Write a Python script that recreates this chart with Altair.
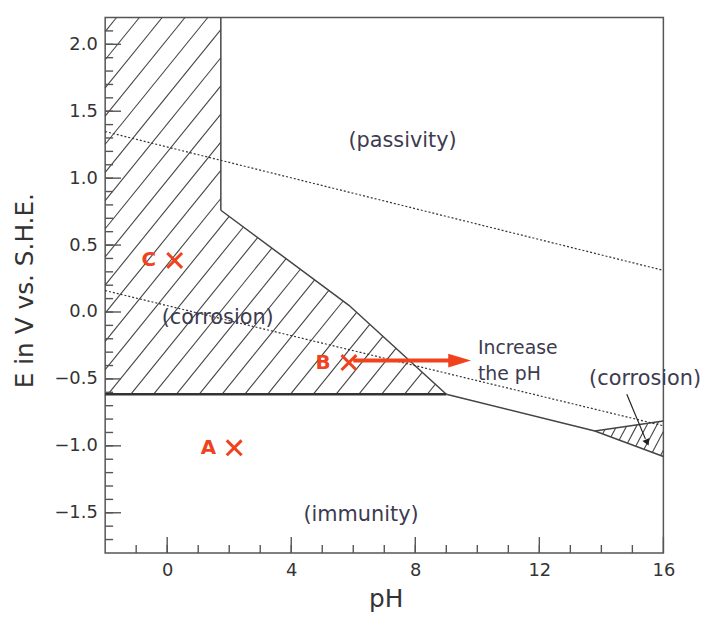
import math
import altair as alt
import numpy as np
import pandas as pd

# ---------------- axes ----------------
X_DOMAIN = [-2, 16]
Y_DOMAIN = [-1.8, 2.2]
W, H = 563, 540
x_major = [0, 4, 8, 12, 16]
x_minor = list(range(-1, 16))
y_major = [-1.5, -1.0, -0.5, 0.0, 0.5, 1.0, 1.5, 2.0]
y_minor = [round(v, 1) for v in np.arange(-1.7, 2.15, 0.1)]

# ---------------- boundaries (pH, E in V) ----------------
fe3_pH = [1.73, 1.73]
fe3_E = [2.2, 0.76]
fe2_pH = [1.73, 5.86, 9.0]
fe2_E = [0.76, 0.05, -0.615]
imm_pH = [-2.0, 9.0]
imm_E = [-0.615, -0.615]
fe3o4_pH = [9.0, 13.79, 16.0]
fe3o4_E = [-0.615, -0.889, -1.08]
hfeo2_pH = [13.79, 16.0]
hfeo2_E = [-0.889, -0.815]

# water stability lines (dotted)
o2_pH = [-2.0, 16.0]
o2_E = [1.348, 0.311]
h2_pH = [-2.0, 16.0]
h2_E = [0.16, -0.85]

# hatched (corrosion) regions
main_pH = [-2.0, 1.73, 1.73, 5.86, 9.0, -2.0]
main_E = [2.2, 2.2, 0.76, 0.05, -0.615, -0.615]
small_pH = [13.79, 16.0, 16.0]
small_E = [-0.889, -0.815, -1.08]

# marked points
pt_names = ["C", "A", "B"]
pt_pH = [0.24, 2.16, 5.86]
pt_E = [0.385, -1.015, -0.378]

# arrow "increase the pH"
arrow_pH = [6.0, 9.2]
arrow_E = [-0.363, -0.363]
arrow_head_pH = [9.43]
arrow_head_E = [-0.363]

# pointer from right "(corrosion)" label
ptr_pH = [14.82, 15.42]
ptr_E = [-0.615, -0.948]
ptr_head_pH = [15.48]
ptr_head_E = [-0.975]

# region labels
lab_text = ["(passivity)", "(corrosion)", "(immunity)", "(corrosion)"]
lab_pH = [7.59, 1.63, 6.25, 15.41]
lab_E = [1.274, -0.044, -1.519, -0.504]
note_text = ["Increase", "the pH"]
note_pH = [10.02, 10.02]
note_E = [-0.267, -0.467]

RED = "#EF421D"
INK = "#444444"
TXT = "#3d3b4f"
FONT = "DejaVu Sans"


# ---------------- hatch texture (clipped to region polygons) ----------------
def to_px(ph, e):
    return ((ph - X_DOMAIN[0]) / (X_DOMAIN[1] - X_DOMAIN[0]) * W,
            (Y_DOMAIN[1] - e) / (Y_DOMAIN[1] - Y_DOMAIN[0]) * H)


def to_data(x, y):
    return (X_DOMAIN[0] + x / W * (X_DOMAIN[1] - X_DOMAIN[0]),
            Y_DOMAIN[1] - y / H * (Y_DOMAIN[1] - Y_DOMAIN[0]))


def hatch(poly_pH, poly_E, spacing, angle, region):
    k = math.tan(math.radians(angle))
    pts = [to_px(a, b) for a, b in zip(poly_pH, poly_E)]
    vals = [y + k * x for x, y in pts]
    step = spacing * k
    c = math.floor(min(vals) / step) * step + step * 0.5
    rows = []
    n = len(pts)
    while c < max(vals):
        hits = []
        for i in range(n):
            (x1, y1), (x2, y2) = pts[i], pts[(i + 1) % n]
            f1, f2 = vals[i] - c, vals[(i + 1) % n] - c
            if (f1 < 0) != (f2 < 0):
                t = f1 / (f1 - f2)
                hits.append((x1 + t * (x2 - x1), y1 + t * (y2 - y1)))
        hits.sort()
        for j in range(0, len(hits) - 1, 2):
            p, q = to_data(*hits[j]), to_data(*hits[j + 1])
            rows.append(dict(region=region, x=p[0], y=p[1], x2=q[0], y2=q[1]))
        c += step
    return rows


hatch_df = pd.DataFrame(
    hatch(main_pH, main_E, 23, 51, "main")
    + hatch(small_pH, small_E, 10, 62, "small")
)

# ---------------- shared encodings ----------------
xscale = alt.Scale(domain=X_DOMAIN, nice=False, zero=False)
yscale = alt.Scale(domain=Y_DOMAIN, nice=False, zero=False)
xaxis = alt.Axis(values=x_major, ticks=False, domain=False, grid=False,
                 labelFontSize=18, labelPadding=9, labelFlush=False,
                 title="pH", titleFontSize=25, titleFontWeight="normal",
                 titleX=283, titleY=54, titleAlign="center",
                 titleBaseline="alphabetic")
yaxis = alt.Axis(values=y_major, format=".1f", ticks=False, domain=False,
                 grid=False, labelFontSize=18, labelPadding=8,
                 labelFlush=False, title="E in V vs. S.H.E.",
                 titleFontSize=25, titleFontWeight="normal", titleAngle=270,
                 titleX=-73, titleY=275, titleAlign="center",
                 titleBaseline="alphabetic")


def X(f):
    return alt.X(f, type="quantitative", scale=xscale, axis=xaxis)


def Y(f):
    return alt.Y(f, type="quantitative", scale=yscale, axis=yaxis)


def line_df(segs):
    rows = []
    for name, xs, ys in segs:
        for i, (a, b) in enumerate(zip(xs, ys)):
            rows.append(dict(seg=name, o=i, pH=a, E=b))
    return pd.DataFrame(rows)


bounds = line_df([("fe3", fe3_pH, fe3_E), ("fe2", fe2_pH, fe2_E),
                  ("fe3o4", fe3o4_pH, fe3o4_E), ("hfeo2", hfeo2_pH, hfeo2_E)])
imm = line_df([("imm", imm_pH, imm_E)])
water = line_df([("o2", o2_pH, o2_E), ("h2", h2_pH, h2_E)])

hatch_layer = alt.Chart(hatch_df).mark_rule(color=INK, strokeWidth=1.1).encode(
    x=X("x"), y=Y("y"), x2="x2", y2="y2")

bound_layer = alt.Chart(bounds).mark_line(color=INK, strokeWidth=1.5).encode(
    x=X("pH"), y=Y("E"), detail="seg:N", order="o:Q")

imm_layer = alt.Chart(imm).mark_line(color="#333333", strokeWidth=2.6).encode(
    x=X("pH"), y=Y("E"), detail="seg:N", order="o:Q")

water_layer = alt.Chart(water).mark_line(
    color="#333333", strokeWidth=1.2, strokeDash=[2, 2]).encode(
    x=X("pH"), y=Y("E"), detail="seg:N", order="o:Q")

# inward ticks
xmin_df = pd.DataFrame({"v": x_minor})
xmaj_df = pd.DataFrame({"v": x_major})
ymin_df = pd.DataFrame({"v": y_minor})
ymaj_df = pd.DataFrame({"v": y_major})
tick_style = dict(color="#555555", strokeWidth=1.4)
xminor_layer = alt.Chart(xmin_df).mark_rule(**tick_style).encode(
    x=X("v"), y=alt.value(H), y2=alt.value(H - 8))
xmajor_layer = alt.Chart(xmaj_df).mark_rule(**tick_style).encode(
    x=X("v"), y=alt.value(H), y2=alt.value(H - 16))
yminor_layer = alt.Chart(ymin_df).mark_rule(**tick_style).encode(
    y=Y("v"), x=alt.value(0), x2=alt.value(8))
ymajor_layer = alt.Chart(ymaj_df).mark_rule(**tick_style).encode(
    y=Y("v"), x=alt.value(0), x2=alt.value(16))

# region labels
lab_df = pd.DataFrame({"t": lab_text, "pH": lab_pH, "E": lab_E})
lab_layer = alt.Chart(lab_df).mark_text(
    font=FONT, fontSize=21, color=TXT, align="center", baseline="middle").encode(
    x=X("pH"), y=Y("E"), text="t:N")

note_df = pd.DataFrame({"t": note_text, "pH": note_pH, "E": note_E})
note_layer = alt.Chart(note_df).mark_text(
    font=FONT, fontSize=19, color=TXT, align="left", baseline="middle").encode(
    x=X("pH"), y=Y("E"), text="t:N")

# red arrow
arrow_df = pd.DataFrame({"pH": [arrow_pH[0]], "E": [arrow_E[0]],
                         "pH2": [arrow_pH[1]], "E2": [arrow_E[1]]})
arrow_layer = alt.Chart(arrow_df).mark_rule(color=RED, strokeWidth=4).encode(
    x=X("pH"), y=Y("E"), x2="pH2", y2="E2")
head_df = pd.DataFrame({"pH": arrow_head_pH, "E": arrow_head_E})
head_layer = alt.Chart(head_df).mark_point(
    shape="M-1,-0.6L1,0L-1,0.6Z", size=529, filled=True, color=RED,
    opacity=1, strokeWidth=0).encode(x=X("pH"), y=Y("E"))

# pointer to small corrosion zone
ptr_df = pd.DataFrame({"pH": [ptr_pH[0]], "E": [ptr_E[0]],
                       "pH2": [ptr_pH[1]], "E2": [ptr_E[1]]})
ptr_layer = alt.Chart(ptr_df).mark_rule(color="#222222", strokeWidth=1.2).encode(
    x=X("pH"), y=Y("E"), x2="pH2", y2="E2")
ptr_head_df = pd.DataFrame({"pH": ptr_head_pH, "E": ptr_head_E})
ptr_head_layer = alt.Chart(ptr_head_df).mark_point(
    shape="triangle-down", angle=336, size=60, filled=True, color="#222222",
    opacity=1).encode(x=X("pH"), y=Y("E"))

# marked points
pts_df = pd.DataFrame({"name": pt_names, "pH": pt_pH, "E": pt_E})
cross_layer = alt.Chart(pts_df).mark_point(
    shape="M-1,-1L1,1M-1,1L1,-1", size=225, filled=False, color=RED,
    strokeWidth=3, opacity=1).encode(x=X("pH"), y=Y("E"))
letter_layer = alt.Chart(pts_df).mark_text(
    font=FONT, fontSize=20, fontWeight="bold", color=RED, align="center",
    baseline="middle", dx=-26).encode(x=X("pH"), y=Y("E"), text="name:N")

chart = alt.layer(
    hatch_layer, bound_layer, water_layer, imm_layer,
    xminor_layer, xmajor_layer, yminor_layer, ymajor_layer,
    lab_layer, note_layer, arrow_layer, head_layer,
    ptr_layer, ptr_head_layer, cross_layer, letter_layer,
).properties(
    width=W, height=H,
    autosize=alt.AutoSizeParams(type="none"),
    padding={"left": 98, "top": 7, "right": 45, "bottom": 60},
).configure_view(
    stroke="#555555", strokeWidth=1.5
).configure_axis(
    labelFont=FONT, titleFont=FONT, labelColor="#333333", titleColor="#333333"
)

chart.save("out.html", embed_options={"renderer": "svg", "actions": False})
